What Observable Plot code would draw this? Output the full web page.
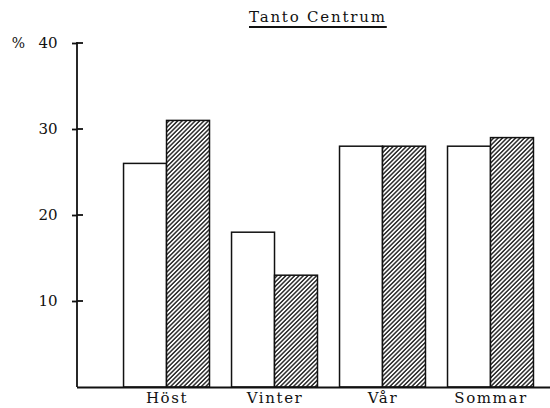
<!DOCTYPE html>
<html>
<head>
<meta charset="utf-8">
<script src="https://cdn.jsdelivr.net/npm/d3@7"></script>
<script src="https://cdn.jsdelivr.net/npm/@observablehq/plot@0.6"></script>
<style>
  html, body { margin: 0; padding: 0; background: #ffffff; }
  #wrap { width: 550px; height: 408px; position: relative; overflow: hidden; }
  #title { position: relative; height: 30px; }
  #title span {
    position: absolute; left: 249px; top: 10px; line-height: 15px;
    font-family: "DejaVu Serif", serif; font-size: 15px; color: #111;
    letter-spacing: 1.8px;
    text-decoration: underline; text-decoration-thickness: 1.5px; text-underline-offset: 4px;
    white-space: nowrap;
  }
  svg { display: block; }
  g[aria-label="x-axis tick label"] text { letter-spacing: 1.6px; }
</style>
</head>
<body>
<div id="wrap">
  <div id="title"><span>Tanto Centrum</span></div>
  <div id="chart"></div>
</div>
<script>
// ---- data ----
const title = "Tanto Centrum";
const seasons = ["Höst", "Vinter", "Vår", "Sommar"];
const openValues = [26, 18, 28, 28];      // white bars
const hatchedValues = [31, 13, 28, 29];   // hatched bars
const yTicks = [10, 20, 30, 40];
const yUnit = "%";

const openData = seasons.map((s, i) => ({season: s, value: openValues[i]}));
const hatchedData = seasons.map((s, i) => ({season: s, value: hatchedValues[i]}));

// band geometry (same parameters as passed to Plot's x scale)
const W = 550, H = 378, mL = 77, mR = 0, mT = 13, mB = 21;
const xOpts = {domain: seasons, paddingInner: 0.204, paddingOuter: 0.292, align: 0.738, round: false};
const bw = d3.scaleBand().domain(seasons).range([mL, W - mR])
  .paddingInner(xOpts.paddingInner).paddingOuter(xOpts.paddingOuter).align(xOpts.align).bandwidth();
const half = bw / 2;

const font = "DejaVu Serif, serif";

// custom mark: hatch pattern + y axis line and inner tick stubs
function axisAndDefs(index, scales, values, dimensions) {
  const g = d3.create("svg:g");
  const defs = g.append("defs");
  const p = defs.append("pattern")
    .attr("id", "hatch").attr("patternUnits", "userSpaceOnUse")
    .attr("width", 3.1).attr("height", 3.1)
    .attr("patternTransform", "rotate(45)");
  p.append("rect").attr("width", 3.1).attr("height", 3.1).attr("fill", "#ffffff");
  p.append("line").attr("x1", 0.8).attr("y1", 0).attr("x2", 0.8).attr("y2", 3.1)
    .attr("stroke", "#1e1e1e").attr("stroke-width", 1.4);
  const x0 = dimensions.marginLeft;
  g.append("line").attr("x1", x0).attr("x2", x0)
    .attr("y1", scales.y(d3.max(yTicks)) - 1).attr("y2", scales.y(0))
    .attr("stroke", "#111").attr("stroke-width", 1.8);
  for (const t of yTicks) {
    g.append("line").attr("x1", x0).attr("x2", x0 + 6)
      .attr("y1", scales.y(t)).attr("y2", scales.y(t))
      .attr("stroke", "#111").attr("stroke-width", 1.8);
  }
  return g.node();
}

const plot = Plot.plot({
  width: W, height: H,
  marginLeft: mL, marginRight: mR, marginTop: mT, marginBottom: mB,
  style: {fontFamily: font, fontSize: "15px", color: "#111", background: "transparent"},
  x: {...xOpts, label: null},
  y: {domain: [0, 40], label: null},
  marks: [
    axisAndDefs,
    Plot.barY(openData, {x: "season", y: "value", insetLeft: 0, insetRight: half,
      fill: "white", stroke: "#111", strokeWidth: 1.5}),
    Plot.barY(hatchedData, {x: "season", y: "value", insetLeft: half, insetRight: 0,
      fill: "url(#hatch)", stroke: "#111", strokeWidth: 1.5}),
    Plot.ruleY([0], {stroke: "#111", strokeWidth: 2.2}),
    Plot.axisY(yTicks, {tickSize: 5, tickPadding: 15, strokeWidth: 1.8, fontSize: 15, label: null}),
    Plot.axisX({tickSize: 0, tickPadding: 5, fontSize: 15, label: null}),
    Plot.text([yUnit], {y: () => 40, frameAnchor: "left", textAnchor: "middle", dx: -59, text: d => d, fontSize: 14})
  ]
});
document.getElementById("chart").appendChild(plot);
</script>
</body>
</html>
